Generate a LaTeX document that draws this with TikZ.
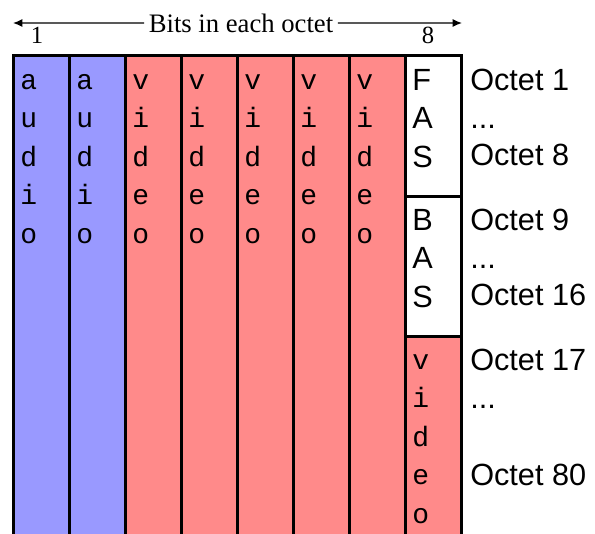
\documentclass[tikz,border=0pt]{standalone}
\usepackage{fontspec}
\setmainfont{Liberation Serif}
\setsansfont{Liberation Sans}
\setmonofont{Liberation Mono}
\usetikzlibrary{arrows.meta}
\definecolor{audioblue}{RGB}{153,153,255}
\definecolor{videored}{RGB}{255,138,138}
\begin{document}
\begin{tikzpicture}[x=0.75pt, y=-0.75pt,
        cell/.style={rectangle, draw=black, line width=2.2pt, inner sep=0pt, anchor=north west, minimum width=42pt},
        column/.style={cell, minimum height=364.5pt},
        monotext/.style={anchor=north west, inner sep=0pt, align=left, font=\fontsize{21}{28.9}\selectfont\ttfamily},
        sanstext/.style={anchor=north west, inner sep=0pt, align=left, font=\fontsize{23}{28.9}\selectfont\sffamily},
        octetlabel/.style={anchor=base west, inner sep=0pt, font=\fontsize{23}{28}\selectfont\sffamily},
        title/.style={anchor=base, font=\fontsize{20}{24}\selectfont},
        bitnum/.style={anchor=base, inner sep=0pt, font=\fontsize{18.5}{22}\selectfont},
        arrow/.style={-{Latex[length=7pt,width=6pt]}, line width=0.9pt}
    ]
        \useasboundingbox (0,0) rectangle (595,533);
        \clip (0,0) rectangle (595,533);

        % Header
        \node[title] (bits) at (241,32) {Bits in each octet};
        \coordinate (lefttip) at (13,23);
        \coordinate (righttip) at (462,23);
        \draw[arrow] (bits) -- (lefttip);
        \draw[arrow] (bits) -- (righttip);
        \node[bitnum] (first) at (37,43) {1};
        \node[bitnum] (last) at (428,43) {8};

        % Audio columns
        \node[column, fill=audioblue] (c1) at (12,54) {};
        \node[column, fill=audioblue] (c2) at (68,54) {};

        % Video columns
        \node[column, fill=videored] (c3) at (124,54) {};
        \node[column, fill=videored] (c4) at (180,54) {};
        \node[column, fill=videored] (c5) at (236,54) {};
        \node[column, fill=videored] (c6) at (292,54) {};
        \node[column, fill=videored] (c7) at (348,54) {};

        % Last column
        \node[cell, fill=white, minimum height=105.75pt] (fas) at (404,54) {};
        \node[cell, fill=white, minimum height=105pt] (bas) at (404,195) {};
        \node[cell, fill=videored, minimum height=153.75pt] (c8) at (404,335) {};

        % Column texts
        \node[monotext] (t1) at (20,62) {\strut a\\u\\d\\i\\o};
        \node[monotext] (t2) at (76,62) {\strut a\\u\\d\\i\\o};
        \node[monotext] (t3) at (132,62) {\strut v\\i\\d\\e\\o};
        \node[monotext] (t4) at (188,62) {\strut v\\i\\d\\e\\o};
        \node[monotext] (t5) at (244,62) {\strut v\\i\\d\\e\\o};
        \node[monotext] (t6) at (300,62) {\strut v\\i\\d\\e\\o};
        \node[monotext] (t7) at (356,62) {\strut v\\i\\d\\e\\o};
        \node[sanstext] (fastext) at (412,63) {\strut F\\A\\S};
        \node[sanstext] (bastext) at (412,203) {\strut B\\A\\S};
        \node[monotext] (t8) at (412,342) {\strut v\\i\\d\\e\\o};

        % Octet labels
        \node[octetlabel] (o1) at (470,90) {Octet 1};
        \node[octetlabel] (dots1) at (470,128) {...};
        \node[octetlabel] (o8) at (470,165) {Octet 8};
        \node[octetlabel] (o9) at (470,230) {Octet 9};
        \node[octetlabel] (dots2) at (470,268) {...};
        \node[octetlabel] (o16) at (470,305) {Octet 16};
        \node[octetlabel] (o17) at (470,370) {Octet 17};
        \node[octetlabel] (dots3) at (470,408) {...};
        \node[octetlabel] (o80) at (470,485) {Octet 80};

    \end{tikzpicture}
\end{document}
